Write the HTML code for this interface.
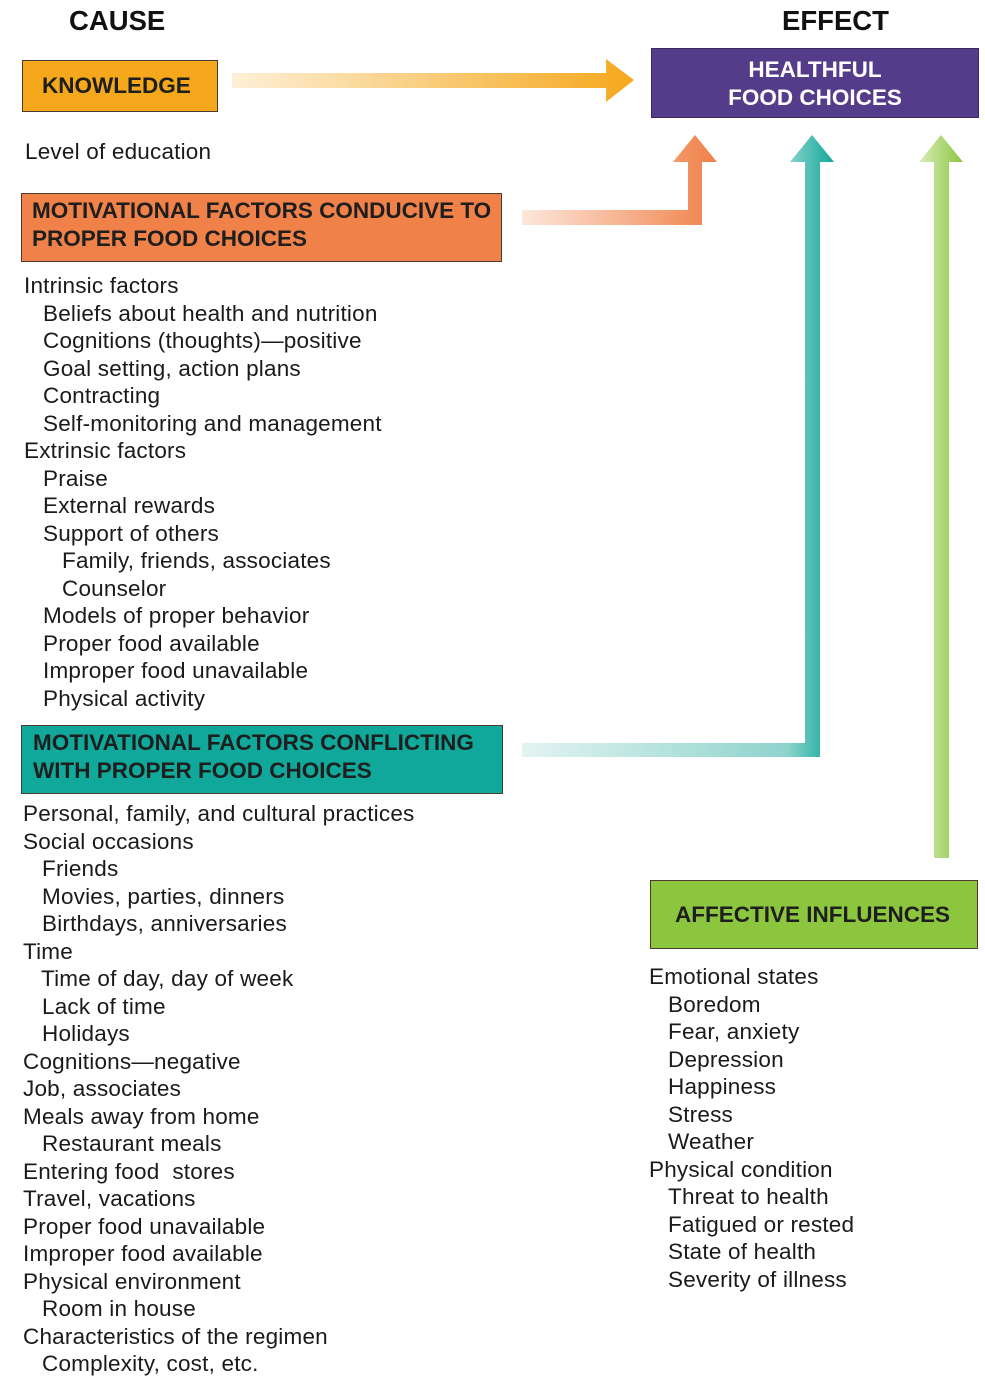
<!DOCTYPE html>
<html><head><meta charset="utf-8"><style>
body{margin:0;width:985px;height:1384px;position:relative;background:#fff;font-family:"Liberation Sans",Arial,sans-serif;overflow:hidden}
.t{position:absolute;font-size:22.5px;letter-spacing:0.2px;color:#1a1a1a;white-space:nowrap;line-height:24px}
.box{position:absolute;box-sizing:border-box;border:1.5px solid #4a3a30;font-weight:bold;font-size:22.5px;line-height:27.5px;color:#1e1e1e;white-space:nowrap}
.h{position:absolute;font-weight:bold;font-size:27.5px;color:#111}
svg{position:absolute;left:0;top:0}
</style></head><body>
<svg width="985" height="1384">
<defs>
<linearGradient id="go" x1="0" x2="1"><stop offset="0" stop-color="#fdf0d8"/><stop offset="1" stop-color="#f5a81c"/></linearGradient>
<linearGradient id="gs" x1="522" x2="717" gradientUnits="userSpaceOnUse"><stop offset="0" stop-color="#fde7dc"/><stop offset="1" stop-color="#f08148"/></linearGradient>
<linearGradient id="gt" x1="522" x2="834" gradientUnits="userSpaceOnUse"><stop offset="0" stop-color="#e3f4f2"/><stop offset="0.85" stop-color="#8ed3cc"/><stop offset="1" stop-color="#10a89a"/></linearGradient>
<linearGradient id="gg" x1="919" x2="963" gradientUnits="userSpaceOnUse"><stop offset="0" stop-color="#d8ecb9"/><stop offset="1" stop-color="#8cc63f"/></linearGradient>
</defs>
<polygon points="232,73 606,73 606,59 634,80 606,102 606,88 232,88" fill="url(#go)"/>
<polygon points="522,210 688,210 688,162 673,162 695,135 717,162 702,162 702,225 522,225" fill="url(#gs)"/>
<polygon points="522,743 805,743 805,162 790,162 812,135 834,162 820,162 820,757 522,757" fill="url(#gt)"/>
<polygon points="934,858 934,162 919,162 941,135 963,162 949,162 949,858" fill="url(#gg)"/>
</svg>
<div class="h" style="left:69px;top:5px">CAUSE</div>
<div class="h" style="left:782px;top:5px">EFFECT</div>
<div class="box" style="left:22px;top:60px;width:196px;height:52px;background:#f5a81c;padding:11px 0 0 19px">KNOWLEDGE</div>
<div class="box" style="left:651px;top:48px;width:328px;height:70px;background:#553c8b;color:#fff;text-align:center;padding-top:7px;border-color:#3a2a60">HEALTHFUL<br>FOOD CHOICES</div>
<div class="box" style="left:21px;top:193px;width:481px;height:69px;background:#f08148;padding:3px 0 0 10px">MOTIVATIONAL FACTORS CONDUCIVE TO<br>PROPER FOOD CHOICES</div>
<div class="box" style="left:21px;top:725px;width:482px;height:69px;background:#10a89a;padding:3px 0 0 11px">MOTIVATIONAL FACTORS CONFLICTING<br>WITH PROPER FOOD CHOICES</div>
<div class="box" style="left:650px;top:880px;width:328px;height:69px;background:#8cc63f;padding:20px 0 0 24px">AFFECTIVE INFLUENCES</div>
<div class="t" style="left:25px;top:140px">Level of education</div>
<div class="t" style="left:24px;top:274px">Intrinsic factors</div>
<div class="t" style="left:43px;top:301.5px">Beliefs about health and nutrition</div>
<div class="t" style="left:43px;top:329px">Cognitions (thoughts)—positive</div>
<div class="t" style="left:43px;top:356.5px">Goal setting, action plans</div>
<div class="t" style="left:43px;top:384px">Contracting</div>
<div class="t" style="left:43px;top:411.5px">Self-monitoring and management</div>
<div class="t" style="left:24px;top:439px">Extrinsic factors</div>
<div class="t" style="left:43px;top:466.5px">Praise</div>
<div class="t" style="left:43px;top:494px">External rewards</div>
<div class="t" style="left:43px;top:521.5px">Support of others</div>
<div class="t" style="left:62px;top:549px">Family, friends, associates</div>
<div class="t" style="left:62px;top:576.5px">Counselor</div>
<div class="t" style="left:43px;top:604px">Models of proper behavior</div>
<div class="t" style="left:43px;top:631.5px">Proper food available</div>
<div class="t" style="left:43px;top:659px">Improper food unavailable</div>
<div class="t" style="left:43px;top:686.5px">Physical activity</div>
<div class="t" style="left:23px;top:802px">Personal, family, and cultural practices</div>
<div class="t" style="left:23px;top:829.5px">Social occasions</div>
<div class="t" style="left:42px;top:857px">Friends</div>
<div class="t" style="left:42px;top:884.5px">Movies, parties, dinners</div>
<div class="t" style="left:42px;top:912px">Birthdays, anniversaries</div>
<div class="t" style="left:23px;top:939.5px">Time</div>
<div class="t" style="left:41px;top:967px">Time of day, day of week</div>
<div class="t" style="left:42px;top:994.5px">Lack of time</div>
<div class="t" style="left:42px;top:1022px">Holidays</div>
<div class="t" style="left:23px;top:1049.5px">Cognitions—negative</div>
<div class="t" style="left:23px;top:1077px">Job, associates</div>
<div class="t" style="left:23px;top:1104.5px">Meals away from home</div>
<div class="t" style="left:42px;top:1132px">Restaurant meals</div>
<div class="t" style="left:23px;top:1159.5px">Entering food&nbsp; stores</div>
<div class="t" style="left:23px;top:1187px">Travel, vacations</div>
<div class="t" style="left:23px;top:1214.5px">Proper food unavailable</div>
<div class="t" style="left:23px;top:1242px">Improper food available</div>
<div class="t" style="left:23px;top:1269.5px">Physical environment</div>
<div class="t" style="left:42px;top:1297px">Room in house</div>
<div class="t" style="left:23px;top:1324.5px">Characteristics of the regimen</div>
<div class="t" style="left:42px;top:1352px">Complexity, cost, etc.</div>
<div class="t" style="left:649px;top:965px">Emotional states</div>
<div class="t" style="left:668px;top:992.5px">Boredom</div>
<div class="t" style="left:668px;top:1020px">Fear, anxiety</div>
<div class="t" style="left:668px;top:1047.5px">Depression</div>
<div class="t" style="left:668px;top:1075px">Happiness</div>
<div class="t" style="left:668px;top:1102.5px">Stress</div>
<div class="t" style="left:668px;top:1130px">Weather</div>
<div class="t" style="left:649px;top:1157.5px">Physical condition</div>
<div class="t" style="left:668px;top:1185px">Threat to health</div>
<div class="t" style="left:668px;top:1212.5px">Fatigued or rested</div>
<div class="t" style="left:668px;top:1240px">State of health</div>
<div class="t" style="left:668px;top:1267.5px">Severity of illness</div>
</body></html>
